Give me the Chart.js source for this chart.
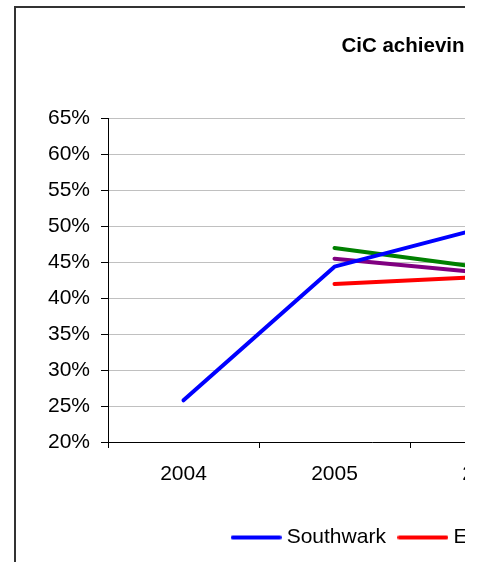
<!DOCTYPE html>
<html>
<head>
<meta charset="utf-8">
<script src="https://cdn.jsdelivr.net/npm/chart.js@4"></script>
<style>
  html, body { margin: 0; padding: 0; background: #fff; overflow: hidden; }
  #frame {
    position: absolute; left: 14px; top: 6px;
    width: 449px; height: 556px;
    border-left: 2px solid #333; border-top: 2px solid #333;
    overflow: hidden;
  }
</style>
</head>
<body>
<div id="frame">
  <canvas id="myChart" width="1169" height="580"></canvas>
</div>
<script>
var years = ['2004', '2005', '2006', '2007', '2008', '2009', '2010'];

// % of CiC (later years are outside the visible crop)
var southwark      = [25.8, 44.4, 49.9, null, null, null, null];
var england        = [null, 42.0, 43.0, null, null, null, null];
var statNeighbours = [null, 47.0, 44.2, null, null, null, null];
var londonAvg      = [null, 45.5, 43.5, null, null, null, null];

var yMin = 20, yMax = 65, yStep = 5;

var padLeft = 30;
var font = 'Liberation Sans, Arial, sans-serif';

// little line sample for the legend, round ends like the series
function legendLine(color) {
  var c = document.createElement('canvas');
  c.width = 51; c.height = 6;
  var g = c.getContext('2d');
  g.strokeStyle = color;
  g.lineWidth = 4;
  g.lineCap = 'round';
  g.beginPath();
  g.moveTo(2, 3);
  g.lineTo(49, 3);
  g.stroke();
  return c;
}

function series(label, data, color) {
  return {
    label: label,
    data: data,
    borderColor: color,
    backgroundColor: color,
    borderWidth: 4,
    pointRadius: 0,
    pointHoverRadius: 0,
    pointStyle: legendLine(color),
    tension: 0,
    borderCapStyle: 'round',
    borderJoinStyle: 'round',
    fill: false
  };
}

var ctx = document.getElementById('myChart').getContext('2d');

var myChart = new Chart(ctx, {
  type: 'line',
  data: {
    labels: years,
    datasets: [
      series('Southwark', southwark, '#0000ff'),
      series('England', england, '#ff0000'),
      series('Statistical neighbours', statNeighbours, '#008000'),
      series('London avg', londonAvg, '#800080')
    ]
  },
  options: {
    responsive: false,
    animation: false,
    layout: { padding: { left: padLeft, right: 20, top: 0, bottom: 30 } },
    plugins: {
      title: {
        display: true,
        text: 'CiC achieving 5+ A*-G GCSEs or equivalent 2004-2010',
        color: '#000',
        font: { family: font, size: 20.5, weight: 'bold' },
        padding: { top: 26, bottom: 60 }
      },
      legend: {
        display: true,
        position: 'bottom',
        labels: {
          color: '#000',
          font: { family: font, size: 21 },
          usePointStyle: true,
          pointStyleWidth: 40,
          padding: 17
        }
      },
      tooltip: { enabled: false }
    },
    scales: {
      x: {
        offset: true,
        grid: { drawOnChartArea: false, offset: true, color: '#000', tickColor: '#000', tickLength: 6 },
        border: { color: '#000', width: 1 },
        ticks: { color: '#000', font: { family: font, size: 21 }, padding: 14, maxRotation: 0 },
        afterFit: function (s) { s.height = 68; }
      },
      y: {
        min: yMin,
        max: yMax,
        grid: { color: '#c0c0c0', tickColor: '#000', tickLength: 7 },
        border: { color: '#000', width: 1 },
        ticks: {
          stepSize: yStep,
          color: '#000',
          padding: 11,
          font: { family: font, size: 21 },
          callback: function (v) { return v + '%'; }
        },
        afterFit: function (s) { s.width = 92 - padLeft; }
      }
    }
  }
});
</script>
</body>
</html>
